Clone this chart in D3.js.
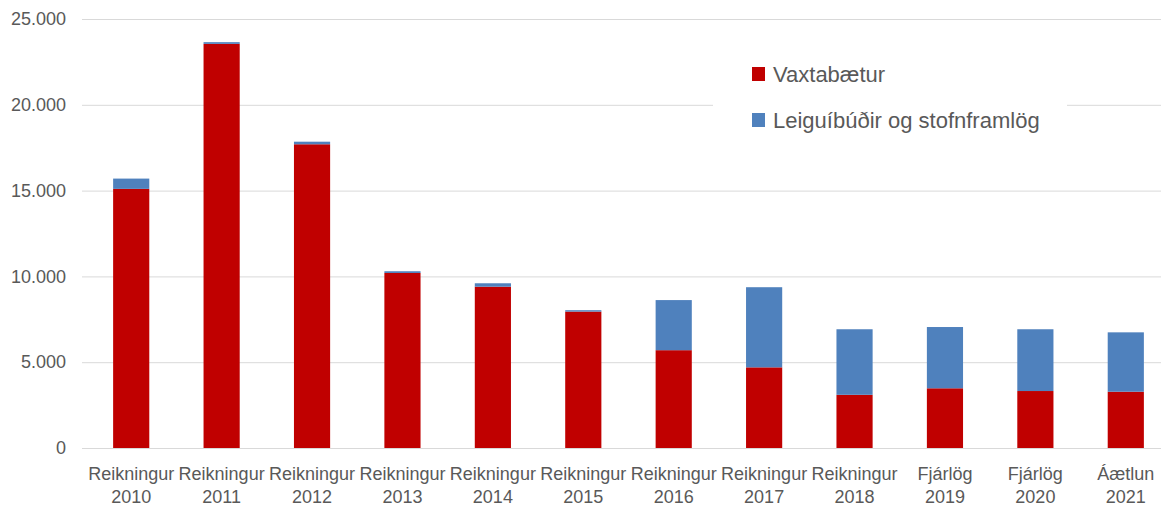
<!DOCTYPE html>
<html>
<head>
<meta charset="utf-8">
<script src="https://cdn.jsdelivr.net/npm/d3@7"></script>
<style>
  html, body { margin: 0; padding: 0; background: #fff; }
  svg { display: block; font-family: "Liberation Sans", Arial, sans-serif; }
</style>
</head>
<body>
<div id="chart"></div>
<script>
// data
const categories = ["Reikningur 2010", "Reikningur 2011", "Reikningur 2012", "Reikningur 2013",
    "Reikningur 2014", "Reikningur 2015", "Reikningur 2016", "Reikningur 2017",
    "Reikningur 2018", "Fjárlög 2019", "Fjárlög 2020", "Áætlun 2021"];
const vaxtabaetur = [15100, 23550, 17700, 10200, 9400, 7950, 5700, 4700, 3100, 3480, 3320, 3280];
const leiguibudir = [600, 100, 150, 100, 200, 80, 2920, 4670, 3820, 3570, 3600, 3460];
const yTicks = [0, 5000, 10000, 15000, 20000, 25000];
const seriesNames = ["Vaxtabætur", "Leiguíbúðir og stofnframlög"];
const seriesColors = ["#c00000", "#4f81bd"];

const width = 1161, height = 508;
const textColor = "#595959";

const svg = d3.select("#chart").append("svg")
    .attr("width", width)
    .attr("height", height);

const x = d3.scaleBand()
    .domain(categories)
    .range([86, 1171])
    .paddingInner(0.6)
    .paddingOuter(0.3);

const y = d3.scaleLinear()
    .domain([0, 25000])
    .range([448, 19]);

const locale = d3.formatLocale({ decimal: ",", thousands: ".", grouping: [3], currency: ["", ""] });
const fmt = locale.format(",d");

// gridlines
svg.append("g")
    .selectAll("line")
    .data(yTicks)
    .join("line")
    .attr("x1", 82)
    .attr("x2", width)
    .attr("y1", d => y(d) + 0.5)
    .attr("y2", d => y(d) + 0.5)
    .attr("stroke", "#d9d9d9")
    .attr("stroke-width", 1);

// y axis labels
const yAxis = svg.append("g")
    .attr("transform", "translate(66,0)")
    .call(d3.axisLeft(y).tickValues(yTicks).tickFormat(fmt).tickSize(0).tickPadding(0));
yAxis.select(".domain").remove();
yAxis.selectAll("text")
    .attr("fill", textColor)
    .attr("font-size", 18)
    .attr("font-family", "Liberation Sans, Arial, sans-serif");

// stacked bars
const rows = categories.map((c, i) => ({ cat: c, v: vaxtabaetur[i], l: leiguibudir[i] }));
const stack = d3.stack().keys(["v", "l"])(rows);

svg.append("g")
    .selectAll("g")
    .data(stack)
    .join("g")
    .attr("fill", (d, i) => seriesColors[i])
    .selectAll("rect")
    .data(d => d)
    .join("rect")
    .attr("x", d => x(d.data.cat))
    .attr("width", x.bandwidth())
    .attr("y", d => y(d[1]))
    .attr("height", d => y(d[0]) - y(d[1]));

// x labels (two lines)
const xLab = svg.append("g")
    .selectAll("text")
    .data(categories)
    .join("text")
    .attr("x", d => x(d) + x.bandwidth() / 2)
    .attr("text-anchor", "middle")
    .attr("fill", textColor)
    .attr("font-size", 18);
xLab.append("tspan")
    .attr("x", d => x(d) + x.bandwidth() / 2)
    .attr("y", 480)
    .text(d => d.split(" ")[0]);
xLab.append("tspan")
    .attr("x", d => x(d) + x.bandwidth() / 2)
    .attr("y", 503)
    .text(d => d.split(" ")[1]);

// legend
const legend = svg.append("g");
legend.append("rect")
    .attr("x", 713).attr("y", 45)
    .attr("width", 354).attr("height", 110)
    .attr("fill", "#fff");
const item = legend.selectAll("g")
    .data(seriesNames)
    .join("g")
    .attr("transform", (d, i) => `translate(752,${74 + i * 46})`);
item.append("rect")
    .attr("x", 0).attr("y", -7)
    .attr("width", 13).attr("height", 14)
    .attr("fill", (d, i) => seriesColors[i]);
item.append("text")
    .attr("x", 21)
    .attr("y", 7.5)
    .attr("fill", textColor)
    .attr("font-size", 22)
    .text(d => d);
</script>
</body>
</html>
